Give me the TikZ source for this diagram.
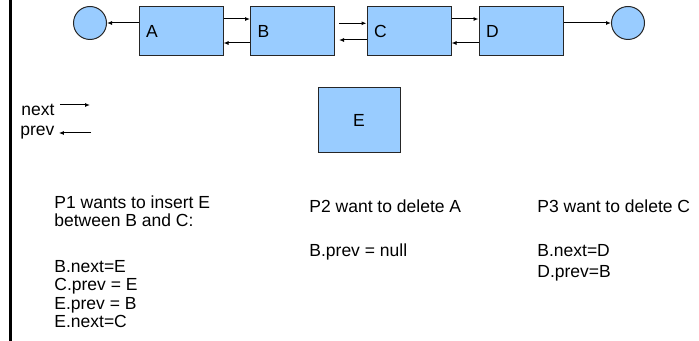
\documentclass[tikz,border=0pt]{standalone}
\usepackage{fontspec}
\setmainfont{Liberation Sans}
\usetikzlibrary{arrows.meta, positioning, calc}
\definecolor{cellblue}{HTML}{99CCFF}

\begin{document}
\begin{tikzpicture}[x=0.5pt, y=-0.5pt,
    every node/.style={font=\fontsize{8.75}{9.15}\selectfont, inner sep=0pt},
    cell/.style={rectangle, draw=black!85, line width=0.5pt, fill=cellblue},
    listcell/.style={cell, text width=35pt, inner xsep=3.5pt, minimum height=24.5pt, align=left},
    endcircle/.style={circle, draw=black!85, line width=0.5pt, fill=cellblue, minimum size=16.5pt},
    ptr/.style={-{Latex[length=2.5pt, width=2pt]}, line width=0.5pt},
    note/.style={anchor=north west, align=left}]
    \useasboundingbox (0,0) rectangle (699,341);
    \draw[line width=1.65pt] (10.5,0) -- (10.5,341);

    % the list
    \node[endcircle] (head) at (90,23) {};
    \node[listcell] (A) at (181,31.5) {A};
    \node[listcell] (B) at (292.5,31.5) {B};
    \node[listcell] (C) at (409,31.5) {C};
    \node[listcell] (D) at (521,31.5) {D};
    \node[endcircle] (tail) at (628,23) {};

    \draw[ptr] (A.west |- head) -- (head.east);
    \draw[ptr] ([yshift=6.25pt]A.east) -- ([yshift=6.25pt]B.west);
    \draw[ptr] ([yshift=-5.75pt]B.west) -- ([yshift=-5.75pt]A.east);
    \draw[ptr] ([xshift=2pt,yshift=4.1pt]B.east) -- ([yshift=4.1pt]C.west);
    \draw[ptr] ([yshift=-4.25pt]C.west) -- ([xshift=2pt,yshift=-4.25pt]B.east);
    \draw[ptr] ([yshift=6.25pt]C.east) -- ([yshift=6.25pt]D.west);
    \draw[ptr] ([yshift=-5.75pt]D.west) -- ([yshift=-5.75pt]C.east);
    \draw[ptr] (D.east |- tail) -- (tail.west);

    % legend
    \node[anchor=base west] (nx) at (21,116) {next};
    \node[anchor=base west] (pv) at (20,136) {prev};
    \coordinate (nxtip) at (90,105);
    \coordinate (pvtail) at (91,133);
    \draw[ptr] ([xshift=2.5pt]nx.east |- nxtip) -- (nxtip);
    \draw[ptr] (pvtail) -- ([xshift=2pt]pv.east |- pvtail);

    \node[cell, minimum width=41pt, minimum height=32.5pt] (E) at (359,120.5) {E};

    % the three processes
    \node[note] (p1) at (54,195.2) {P1 wants to insert E\\between B and C:\\[13.85pt]B.next=E\\C.prev = E\\E.prev = B\\E.next=C};
    \node[note] (p2) at (309,199.2) {P2 want to delete A\\[12.85pt]B.prev = null};
    \node[note] (p3) at (537,199.2) {P3 want to delete C\\[12.85pt]B.next=D\\[1.35pt]D.prev=B};
\end{tikzpicture}
\end{document}
